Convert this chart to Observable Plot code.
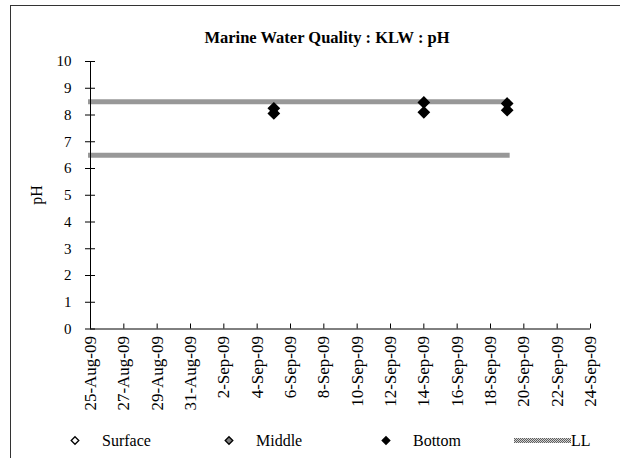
<!DOCTYPE html>
<html><head><meta charset="utf-8">
<script src="https://cdn.jsdelivr.net/npm/d3@7"></script>
<script src="https://cdn.jsdelivr.net/npm/@observablehq/plot@0.6"></script>
<style>
body{margin:0;background:#fff}
#chart{position:relative;width:620px;height:458px;overflow:hidden}
</style>
</head><body><div id="chart"></div>
<script>
// ---- data ----
const xTickLabels = ["25-Aug-09","27-Aug-09","29-Aug-09","31-Aug-09","2-Sep-09","4-Sep-09","6-Sep-09","8-Sep-09","10-Sep-09","12-Sep-09","14-Sep-09","16-Sep-09","18-Sep-09","20-Sep-09","22-Sep-09","24-Sep-09"];
const yTicks = [0,1,2,3,4,5,6,7,8,9,10];
const surfaceDates = [];
const surfaceValues = [];
const middleDates = [];
const middleValues = [];
const bottomDates = ["5-Sep-09","5-Sep-09","14-Sep-09","14-Sep-09","19-Sep-09","19-Sep-09"];
const bottomValues = [8.25, 8.06, 8.47, 8.10, 8.43, 8.18];
const llDates = ["25-Aug-09","19-Sep-09"];
const llUpper = [8.5, 8.5];
const llLower = [6.5, 6.5];
const seriesNames = ["Surface","Middle","Bottom","LL"];
const titleText = "Marine Water Quality : KLW : pH";
const yLabel = "pH";

// ---- build ----
const parse = d3.utcParse("%d-%b-%y");
const ticks = xTickLabels.map(parse);
const toPts = (ds, vs, s) => ds.map((d, i) => ({date: parse(d), value: vs[i], series: s}));
const surface = toPts(surfaceDates, surfaceValues, "Surface");
const middle = toPts(middleDates, middleValues, "Middle");
const bottom = toPts(bottomDates, bottomValues, "Bottom");
const ll = [...toPts(llDates, llUpper, "upper"), ...toPts(llDates, llLower, "lower")];

const FONT = "'Liberation Serif','Times New Roman',serif";
const PAT = "url(#llpat)";

const svg = Plot.plot({
  width: 620, height: 458,
  marginLeft: 90, marginRight: 30, marginTop: 61, marginBottom: 129.5,
  style: {fontFamily: FONT, fontSize: "14px", color: "#000", background: "transparent", overflow: "visible"},
  x: {type: "utc", domain: [ticks[0], ticks[ticks.length - 1]]},
  y: {domain: [0, 10]},
  marks: [
    Plot.line(ll, {x: "date", y: "value", z: "series", stroke: PAT, strokeWidth: 5, strokeLinecap: "square"}),
    Plot.ruleX([ticks[0]], {stroke: "#000"}),
    Plot.ruleY([0], {stroke: "#000"}),
    Plot.axisY({ticks: yTicks, tickSize: 10, dx: 5, tickFormat: () => "", label: null, stroke: "#000"}),
    Plot.axisY({ticks: yTicks, tickSize: 0, tickPadding: 19, label: null, fill: "#000", fontSize: 15}),
    Plot.axisX({ticks, tickSize: 5, dy: -5, tickFormat: () => "", label: null, stroke: "#000"}),
    Plot.axisX({ticks, tickSize: 0, tickPadding: 7, tickRotate: -90, tickFormat: d3.utcFormat("%-d-%b-%y"), label: null, fill: "#000", fontSize: 17}),
    Plot.dot(surface, {x: "date", y: "value", symbol: "diamond2", r: 4.8, fill: "#fff", stroke: "#000"}),
    Plot.dot(middle, {x: "date", y: "value", symbol: "diamond2", r: 4.8, fill: "#808080", stroke: "#000"}),
    Plot.dot(bottom, {x: "date", y: "value", symbol: "diamond2", r: 4.8, fill: "#000", stroke: "#000"})
  ]
});

const root = d3.select(svg);
const defs = root.insert("defs", ":first-child");
const pat = defs.append("pattern").attr("id", "llpat").attr("patternUnits", "userSpaceOnUse").attr("width", 2).attr("height", 2);
pat.append("rect").attr("width", 2).attr("height", 2).attr("fill", "#d2d2d2");
pat.append("rect").attr("width", 1).attr("height", 1).attr("fill", "#5e5e5e");
pat.append("rect").attr("x", 1).attr("y", 1).attr("width", 1).attr("height", 1).attr("fill", "#5e5e5e");

// chart-area border (top and left edges visible)
root.append("line").attr("x1", 10.5).attr("x2", 10.5).attr("y1", 5).attr("y2", 458).attr("stroke", "#333");
root.append("line").attr("x1", 10).attr("x2", 620).attr("y1", 5.5).attr("y2", 5.5).attr("stroke", "#333");

// title
root.append("text").attr("x", 327).attr("y", 43).attr("text-anchor", "middle")
  .attr("font-family", FONT).attr("font-weight", "bold").attr("font-size", 16.5).attr("fill", "#000").text(titleText);

// y label
root.append("text").attr("transform", "translate(42,195) rotate(-90)").attr("text-anchor", "middle")
  .attr("font-family", FONT).attr("font-size", 16).attr("fill", "#000").text(yLabel);

// legend
const ly = 440.5;
const diamond = (cx, cy, h) => `M${cx},${cy - h}L${cx + h},${cy}L${cx},${cy + h}L${cx - h},${cy}Z`;
const legItems = [
  {name: seriesNames[0], x: 75, fill: "#fff"},
  {name: seriesNames[1], x: 229, fill: "#808080"},
  {name: seriesNames[2], x: 386, fill: "#000"}
];
const lg = root.append("g").attr("text-anchor", "start");
legItems.forEach(it => {
  lg.append("path").attr("d", diamond(it.x, ly, 3.8)).attr("fill", it.fill).attr("stroke", "#000").attr("stroke-width", 1.3);
  lg.append("text").attr("x", it.x + 27).attr("y", ly + 5.5).attr("text-anchor", "start").attr("font-family", FONT).attr("font-size", 16).attr("fill", "#000").text(it.name);
});
lg.append("line").attr("x1", 514).attr("x2", 571).attr("y1", ly).attr("y2", ly).attr("stroke", PAT).attr("stroke-width", 5);
lg.append("text").attr("x", 571).attr("y", ly + 5.5).attr("text-anchor", "start").attr("font-family", FONT).attr("font-size", 16).attr("fill", "#000").text(seriesNames[3]);

document.getElementById("chart").appendChild(svg);
</script>
</body></html>
